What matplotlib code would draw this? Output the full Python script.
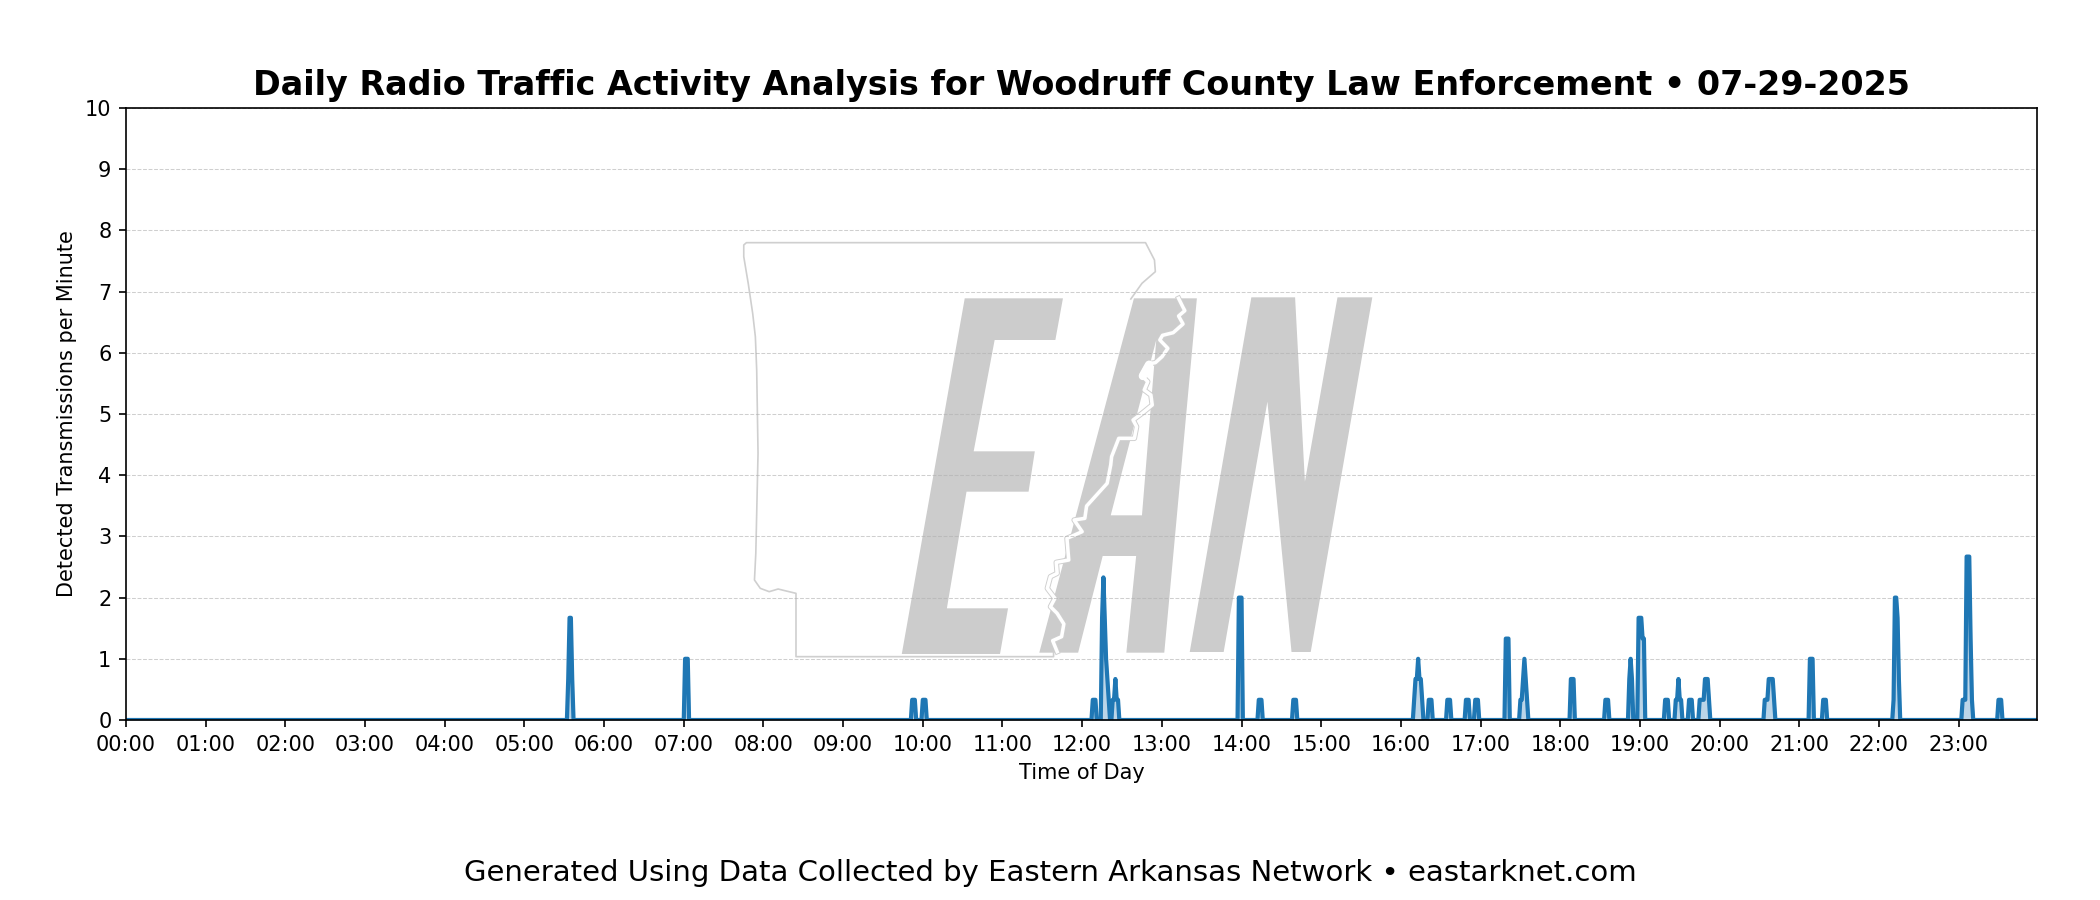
import matplotlib
matplotlib.use('Agg')
import matplotlib.pyplot as plt
import numpy as np
from matplotlib.patches import Polygon
from matplotlib.path import Path
from matplotlib.patches import PathPatch

# minute of day / transmissions per minute (zero stretches between bursts are implied)
minutes = [0,
    332, 333, 334, 335, 336, 337,
    420, 421, 422, 423, 424,
    591, 592, 593, 594, 595, 599, 600, 601, 602, 603,
    727, 728, 729, 730, 731, 734, 735, 736, 737, 738, 739, 740, 741,
    742, 743, 744, 745, 746, 747, 748,
    837, 838, 839, 840, 841, 842,
    852, 853, 854, 855, 856, 878, 879, 880, 881, 882,
    969, 970, 971, 972, 973, 974, 975, 976, 977,
    980, 981, 982, 983, 984, 994, 995, 996, 997, 998,
    1008, 1009, 1010, 1011, 1012, 1015, 1016, 1017, 1018, 1019,
    1038, 1039, 1040, 1041, 1042,
    1049, 1050, 1051, 1052, 1053, 1054, 1055, 1056,
    1087, 1088, 1089, 1090, 1091, 1113, 1114, 1115, 1116, 1117,
    1131, 1132, 1133, 1134, 1135, 1138, 1139, 1140, 1141, 1142, 1143, 1144,
    1158, 1159, 1160, 1161, 1162,
    1166, 1167, 1168, 1169, 1170, 1171, 1172,
    1176, 1177, 1178, 1179, 1180,
    1184, 1185, 1186, 1187, 1188, 1189, 1190, 1191, 1192, 1193,
    1233, 1234, 1235, 1236, 1237, 1238, 1239, 1240, 1241, 1242,
    1267, 1268, 1269, 1270, 1271, 1277, 1278, 1279, 1280, 1281,
    1330, 1331, 1332, 1333, 1334, 1335, 1336,
    1382, 1383, 1384, 1385, 1386, 1387, 1388, 1389, 1390, 1391,
    1409, 1410, 1411, 1412, 1413,
    1439]
rate = [0,
    0, 0.67, 1.67, 1.67, 0.67, 0,
    0, 1, 1, 1, 0,
    0, 0.33, 0.33, 0.33, 0, 0, 0.33, 0.33, 0.33, 0,
    0, 0.33, 0.33, 0.33, 0, 0, 1.67, 2.33, 1.67, 1, 0.67, 0.33, 0,
    0, 0.33, 0.33, 0.67, 0.33, 0.33, 0,
    0, 2, 2, 2, 0, 0,
    0, 0.33, 0.33, 0.33, 0, 0, 0.33, 0.33, 0.33, 0,
    0, 0.33, 0.67, 0.67, 1, 0.67, 0.67, 0.33, 0,
    0, 0.33, 0.33, 0.33, 0, 0, 0.33, 0.33, 0.33, 0,
    0, 0.33, 0.33, 0.33, 0, 0, 0.33, 0.33, 0.33, 0,
    0, 1.33, 1.33, 1.33, 0,
    0, 0.33, 0.33, 0.67, 1, 0.67, 0.33, 0,
    0, 0.67, 0.67, 0.67, 0, 0, 0.33, 0.33, 0.33, 0,
    0, 0.67, 1, 0.67, 0, 0, 1.67, 1.67, 1.67, 1.33, 1.33, 0,
    0, 0.33, 0.33, 0.33, 0,
    0, 0.33, 0.33, 0.67, 0.33, 0.33, 0,
    0, 0.33, 0.33, 0.33, 0,
    0, 0.33, 0.33, 0.33, 0.33, 0.67, 0.67, 0.67, 0.33, 0,
    0, 0.33, 0.33, 0.33, 0.67, 0.67, 0.67, 0.67, 0.33, 0,
    0, 1, 1, 1, 0, 0, 0.33, 0.33, 0.33, 0,
    0, 0.33, 2, 2, 1.67, 0.67, 0,
    0, 0.33, 0.33, 0.33, 2.67, 2.67, 2.67, 1.33, 0.33, 0,
    0, 0.33, 0.33, 0.33, 0,
    0]
hour_ticks = [h * 60 for h in range(24)]
hour_labels = [f'{h:02d}:00' for h in range(24)]

title = 'Daily Radio Traffic Activity Analysis for Woodruff County Law Enforcement \u2022 07-29-2025'
footer = 'Generated Using Data Collected by Eastern Arkansas Network \u2022 eastarknet.com'

letter_e = [(593,235),(813,235),(796,360),(660,360),(613,694),(750,694),(736,815),(597,815),
            (553,1165),(690,1165),(672,1302),(452,1302)]
letter_a = [(972,235),(1113,235),(1040,1298),(955,1298),(977,1008),(902,1008),(847,1298),(760,1298)]
letter_a_hole = [(920,886),(990,886),(1022,360)]
letter_n = [(1235,232),(1333,232),(1355,785),(1428,232),(1506,232),(1368,1296),(1325,1296),
            (1271,545),(1173,1296),(1097,1296)]
state_outline = [(965,237),(990,190),(1020,155),(1018,120),(998,68),(104,68),(98,75),(98,110),(108,190),
                 (118,280),(124,350),(127,450),(130,700),(125,1000),(122,1080),(135,1105),(155,1115),
                 (175,1107),(190,1112),(215,1120),(215,1310),(792,1310),(792,1295)]
river = [(1072,235),(1082,262),(1086,272),(1072,288),(1082,312),(1060,338),(1036,346),(1030,360),(1048,385),
         (1035,410),(1020,428),(1002,432),(988,465),(1003,485),(995,510),(1010,525),(1013,555),(990,580),
         (970,600),(978,620),(973,655),(938,655),(922,710),(920,735),(912,790),(866,858),(862,895),(838,900),
         (856,935),(822,955),(826,1020),(798,1027),(800,1060),(785,1070),(778,1105),(795,1135),(785,1160),
         (800,1180),(815,1212),(810,1250),(790,1262),(800,1295)]
river_blob = [(1006,434),(992,468)]


def to_px(pts):
    # the crop was shown 2.24x wide and 3x tall
    return [(700 + x / 2.24, 220 + y / 3) for x, y in pts]


fig = plt.figure(figsize=(14, 6), dpi=150)

# overlay in pixel coords, sits under the data axes
bg = fig.add_axes([0, 0, 1, 1], zorder=0)
bg.set_xlim(0, 2100)
bg.set_ylim(900, 0)
bg.axis('off')
wm = '#cccccc'
bg.add_patch(Polygon(to_px(letter_e), closed=True, fc=wm, ec='none'))
bg.add_patch(Polygon(to_px(letter_n), closed=True, fc=wm, ec='none'))
a_outer = to_px(letter_a)
a_hole = to_px(letter_a_hole)
verts = a_outer + [a_outer[0]] + a_hole + [a_hole[0]]
codes = [Path.MOVETO] + [Path.LINETO] * (len(a_outer) - 1) + [Path.CLOSEPOLY] + \
        [Path.MOVETO] + [Path.LINETO] * (len(a_hole) - 1) + [Path.CLOSEPOLY]
bg.add_patch(PathPatch(Path(verts, codes), fc=wm, ec='none'))
ox, oy = zip(*to_px(state_outline))
bg.plot(ox, oy, color='#cfcfcf', lw=0.8)
rx, ry = zip(*to_px(river))
bg.plot(rx, ry, color='#cfcfcf', lw=2.6)
bg.plot(rx, ry, color='white', lw=1.7)
bx, by = zip(*to_px(river_blob))
bg.plot(bx, by, color='white', lw=4, solid_capstyle='round')

ax = fig.add_axes([126 / 2100, 1 - 720 / 900, 1911 / 2100, 612 / 900], zorder=1)
ax.patch.set_alpha(0)
ax.plot(minutes, rate, color='tab:blue', lw=2)
ax.fill_between(minutes, rate, color='tab:blue', alpha=0.3)
ax.set_xlim(0, 1439)
ax.set_ylim(0, 10)
ax.set_yticks(range(11))
ax.set_xticks(hour_ticks)
ax.set_xticklabels(hour_labels)
ax.tick_params(labelsize=10)
ax.grid(axis='y', linestyle='--', alpha=0.6, lw=0.5)
ax.set_xlabel('Time of Day', fontsize=10)
ax.set_ylabel('Detected Transmissions per Minute', fontsize=10)
ax.set_title(title, fontsize=16, fontweight='bold')
fig.text(0.5, 0.0215, footer, ha='center', fontsize=14)

plt.savefig('out.png', dpi=150)
